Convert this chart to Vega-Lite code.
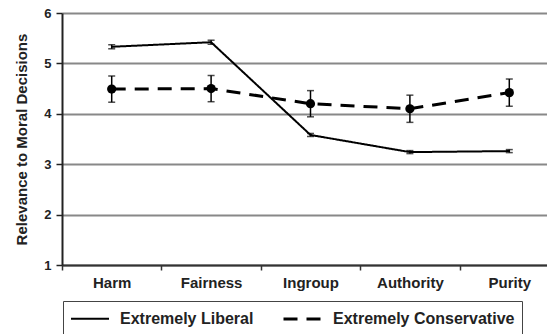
{
  "$schema": "https://vega.github.io/schema/vega-lite/v6.json",
  "width": 485,
  "height": 252,
  "autosize": {"type": "none"},
  "padding": {"left": 62, "top": 13, "right": 0, "bottom": 69},
  "background": "white",
  "config": {
    "view": {"stroke": null},
    "font": "Liberation Sans",
    "axis": {"labelFont": "Liberation Sans", "titleFont": "Liberation Sans"}
  },
  "data": {
    "values": [
      {"category": "Harm", "group": "Extremely Liberal", "mean": 5.33, "lo": 5.29, "hi": 5.37},
      {"category": "Fairness", "group": "Extremely Liberal", "mean": 5.42, "lo": 5.38, "hi": 5.46},
      {"category": "Ingroup", "group": "Extremely Liberal", "mean": 3.58, "lo": 3.55, "hi": 3.61},
      {"category": "Authority", "group": "Extremely Liberal", "mean": 3.24, "lo": 3.21, "hi": 3.27},
      {"category": "Purity", "group": "Extremely Liberal", "mean": 3.26, "lo": 3.23, "hi": 3.29},
      {"category": "Harm", "group": "Extremely Conservative", "mean": 4.49, "lo": 4.23, "hi": 4.75},
      {"category": "Fairness", "group": "Extremely Conservative", "mean": 4.5, "lo": 4.24, "hi": 4.76},
      {"category": "Ingroup", "group": "Extremely Conservative", "mean": 4.2, "lo": 3.94, "hi": 4.46},
      {"category": "Authority", "group": "Extremely Conservative", "mean": 4.1, "lo": 3.83, "hi": 4.37},
      {"category": "Purity", "group": "Extremely Conservative", "mean": 4.42, "lo": 4.15, "hi": 4.69}
    ]
  },
  "encoding": {
    "x": {
      "field": "category",
      "type": "nominal",
      "sort": ["Harm", "Fairness", "Ingroup", "Authority", "Purity"],
      "scale": {"range": [0, 497], "paddingInner": 0, "paddingOuter": 0},
      "axis": {
        "title": null,
        "labelAngle": 0,
        "labelFont": "Liberation Sans",
        "labelFontWeight": "bold",
        "labelFontSize": 15,
        "labelColor": "#222",
        "labelPadding": 5,
        "tickBand": "extent",
        "tickColor": "#333",
        "tickSize": 5,
        "tickWidth": 1.5,
        "domainColor": "#333",
        "domainWidth": 2,
        "grid": false
      }
    }
  },
  "layer": [
    {
      "mark": {"type": "line", "color": "black"},
      "encoding": {
        "y": {
          "field": "mean",
          "type": "quantitative",
          "scale": {"domain": [1, 6], "nice": false, "zero": false},
          "axis": {
            "title": "Relevance to Moral Decisions",
            "titleFontSize": 15,
            "titleFontWeight": "bold",
            "titleColor": "#222",
            "titlePadding": 14,
            "values": [1, 2, 3, 4, 5, 6],
            "labelFontWeight": "bold",
            "labelFontSize": 13,
            "labelColor": "#222",
            "labelPadding": 5,
            "tickSize": 6,
            "tickColor": "#222",
            "tickWidth": 1.5,
            "domainColor": "#222",
            "domainWidth": 2,
            "grid": true,
            "gridColor": "#888888",
            "gridWidth": 2
          }
        },
        "strokeDash": {
          "field": "group",
          "type": "nominal",
          "scale": {"domain": ["Extremely Liberal", "Extremely Conservative"], "range": [[1, 0], [14, 9]]},
          "legend": {
            "orient": "none",
            "legendX": 1,
            "legendY": 288,
            "direction": "horizontal",
            "title": null,
            "strokeColor": "#444",
            "fillColor": "white",
            "padding": 7,
            "symbolType": "M-1,0H3",
            "symbolSize": 361,
            "symbolStrokeColor": "black",
            "symbolStrokeWidth": 2.5,
            "labelFont": "Liberation Sans",
            "labelFontWeight": "bold",
            "labelFontSize": 16,
            "labelColor": "#222",
            "labelOffset": 29,
            "labelLimit": 500,
            "columnPadding": 23,
            "labelExpr": "datum.label == 'Extremely Conservative' ? datum.label + '\u00a0\u00a0\u00a0\u00a0\u00a0\u00a0\u00a0\u00a0\u00a0\u00a0\u00a0\u00a0' : datum.label"
          }
        },
        "strokeWidth": {
          "field": "group",
          "type": "nominal",
          "scale": {"domain": ["Extremely Liberal", "Extremely Conservative"], "range": [2, 3]},
          "legend": null
        }
      }
    },
    {
      "mark": {"type": "rule", "color": "black", "strokeWidth": 1.5},
      "encoding": {
        "y": {"field": "lo", "type": "quantitative"},
        "y2": {"field": "hi"}
      }
    },
    {
      "mark": {"type": "tick", "color": "black", "size": 7, "thickness": 1.5},
      "encoding": {"y": {"field": "lo", "type": "quantitative"}}
    },
    {
      "mark": {"type": "tick", "color": "black", "size": 7, "thickness": 1.5},
      "encoding": {"y": {"field": "hi", "type": "quantitative"}}
    },
    {
      "transform": [{"filter": "datum.group == 'Extremely Conservative'"}],
      "mark": {"type": "point", "filled": true, "color": "black", "size": 85, "opacity": 1},
      "encoding": {"y": {"field": "mean", "type": "quantitative"}}
    }
  ]
}
